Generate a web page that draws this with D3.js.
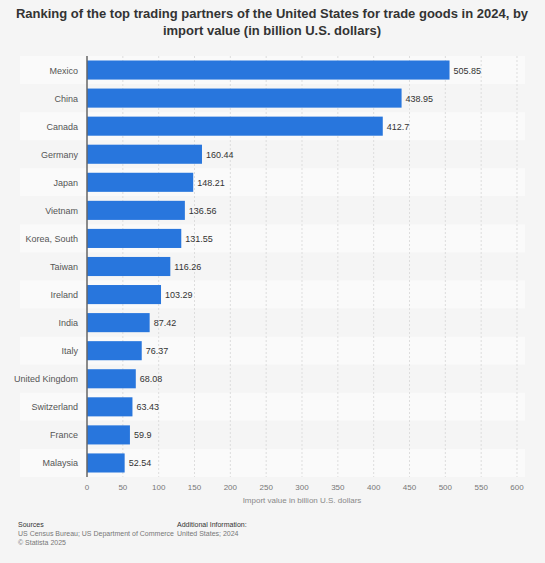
<!DOCTYPE html><html><head><meta charset="utf-8"><script src="https://cdn.jsdelivr.net/npm/d3@7"></script>
<style>body{margin:0;background:#f5f5f5;font-family:Arial,"Liberation Sans",sans-serif}</style></head><body><svg id="c" width="545" height="563"></svg>
<script>
const categories=["Mexico","China","Canada","Germany","Japan","Vietnam","Korea, South","Taiwan","Ireland","India","Italy","United Kingdom","Switzerland","France","Malaysia"];
const values=[505.85,438.95,412.7,160.44,148.21,136.56,131.55,116.26,103.29,87.42,76.37,68.08,63.43,59.9,52.54];
const labels=["505.85","438.95","412.7","160.44","148.21","136.56","131.55","116.26","103.29","87.42","76.37","68.08","63.43","59.9","52.54"];
const ticks=[0,50,100,150,200,250,300,350,400,450,500,550,600];
const svg=d3.select("#c");
svg.append("rect").attr("width",545).attr("height",563).attr("fill","#f5f5f5");
const t=svg.append("text").attr("x",272).attr("text-anchor","middle").attr("font-size",13).attr("font-weight","bold").attr("fill","#333");
t.append("tspan").attr("x",272).attr("y",18).text("Ranking of the top trading partners of the United States for trade goods in 2024, by");
t.append("tspan").attr("x",272).attr("y",35).text("import value (in billion U.S. dollars)");
const x=d3.scaleLinear().domain([0,600]).range([87,517]);
const y=d3.scaleBand().domain(categories).range([56,477]).paddingInner(0.32).paddingOuter(0.16);
const step=y.step();
categories.forEach((c,i)=>{svg.append("rect").attr("x",20).attr("width",505).attr("y",y(c)-y.paddingInner()*step/2).attr("height",step).attr("fill",i%2?"#f5f5f5":"#fafafa");});
svg.append("g").selectAll("line").data(ticks.slice(1)).join("line").attr("x1",d=>x(d)).attr("x2",d=>x(d)).attr("y1",56).attr("y2",477).attr("stroke","#ddd").attr("stroke-dasharray","2,2");
svg.append("g").selectAll("rect").data(values).join("rect").attr("x",x(0)).attr("y",(d,i)=>y(categories[i])).attr("height",y.bandwidth()).attr("width",d=>x(d)-x(0)).attr("fill","#2876dd");
svg.append("line").attr("x1",x(0)).attr("x2",x(0)).attr("y1",56).attr("y2",477).attr("stroke","#666").attr("stroke-width",1.5);
svg.append("g").selectAll("text").data(values).join("text").attr("x",d=>x(d)+4).attr("y",(d,i)=>y(categories[i])+y.bandwidth()/2+3.5).attr("font-size",9).attr("fill","#333").text((d,i)=>labels[i]);
svg.append("g").selectAll("text").data(categories).join("text").attr("x",78).attr("y",d=>y(d)+y.bandwidth()/2+3.5).attr("text-anchor","end").attr("font-size",9).attr("fill","#555").text(d=>d);
svg.append("g").selectAll("text").data(ticks).join("text").attr("x",d=>x(d)).attr("y",490).attr("text-anchor","middle").attr("font-size",8).attr("fill","#777").text(d=>d);
svg.append("text").attr("x",x(300)).attr("y",503).attr("text-anchor","middle").attr("font-size",8).attr("fill","#888").text("Import value in billion U.S. dollars");
const f=(xx,yy,s,col)=>svg.append("text").attr("x",xx).attr("y",yy).attr("font-size",7).attr("fill",col).text(s);
f(18,527,"Sources","#333");f(18,536,"US Census Bureau; US Department of Commerce","#777");f(18,545,"© Statista 2025","#777");
f(177,527,"Additional Information:","#333");f(177,536,"United States; 2024","#777");
</script></body></html>
